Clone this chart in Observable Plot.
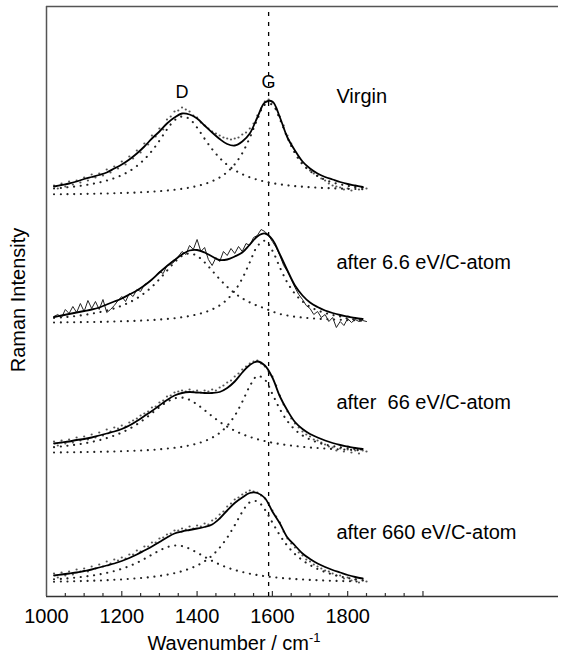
<!DOCTYPE html>
<html><head><meta charset="utf-8">
<script src="https://cdn.jsdelivr.net/npm/d3@7"></script>
<script src="https://cdn.jsdelivr.net/npm/@observablehq/plot@0.6"></script>
<style>
html,body{margin:0;padding:0;background:#fff;overflow:hidden;}
svg text{white-space:pre;}
</style></head><body><div id="chart"></div>
<script>
// wavenumber grids (cm^-1)
const wnFit = [1020,1040,1060,1080,1100,1120,1140,1160,1180,1200,1220,1240,1260,1280,1300,1320,1340,1360,1380,1400,1420,1440,1460,1480,1500,1520,1540,1560,1580,1600,1620,1640,1660,1680,1700,1720,1740,1760,1780,1800,1820,1840];
const wnData = [1020,1030,1040,1050,1060,1070,1080,1090,1100,1110,1120,1130,1140,1150,1160,1170,1180,1190,1200,1210,1220,1230,1240,1250,1260,1270,1280,1290,1300,1310,1320,1330,1340,1350,1360,1370,1380,1390,1400,1410,1420,1430,1440,1450,1460,1470,1480,1490,1500,1510,1520,1530,1540,1550,1560,1570,1580,1590,1600,1610,1620,1630,1640,1650,1660,1670,1680,1690,1700,1710,1720,1730,1740,1750,1760,1770,1780,1790,1800,1810,1820,1830,1840,1850];

const names = ["Virgin", "after 6.6 eV/C-atom", "after  66 eV/C-atom", "after 660 eV/C-atom"];
const offsets = [401, 273, 143, 13]; // vertical stacking offsets (a.u.)

// fitted envelope (a.u.)
const fitVirgin = [9,10.5,12,14,16.5,18.5,20.5,23,27,31,36,42,49,57,64,72,78,82,81,77,70,63,56.5,51.5,50,54,62,78,93,94,78,58,45,34,27,22,18.5,16,13.5,11.5,10,8.5];
const fit6p6 = [6.5,8,9.5,11,12.5,14,16,19,22,25,29,33,38,44,51,57.5,63.5,69,73,73.5,71,67,63.5,64,67,71,79,87,90,84,69,53,38,28,21,16.5,13,10.5,8.5,7,5.5,4.5];
const fit66 = [10,11,12,13.5,14.5,16,18,20,22,24.5,28,32.5,37.5,42.5,48,53.5,58,60.5,61.5,61,60.5,60.5,61.5,65.5,72,81,88.5,92,88,76,57,43,31.5,24.5,19.5,16,13,10.5,8.5,7,5.5,4.5];
const fit660 = [8,9,10,11,12.5,14,16,18,20,22.5,25.5,29,33,37,41.5,46,50,52,53.5,55,56.5,59,65,73,80.5,86,90.5,90.5,85.5,72,60,46,38,30,24.5,20,16.5,13.5,11,8.5,6.5,5];

// D band component (a.u.)
const dVirgin = [7,7.6,8.4,9.2,10.2,11.5,13,14.9,17.3,20.4,24.3,29.5,36.2,44.6,54.9,66,75.2,79,76.5,67.8,56.8,46.3,37.6,30.7,25.4,21.3,18.2,15.8,13.9,12.4,11.2,10.2,9.4,8.8,8.3,7.8,7.5,7.2,6.9,6.7,6.5,6.3];
const d6p6 = [5.5,6.1,6.8,7.6,8.6,9.8,11.3,13,15.1,17.8,21.1,25.2,30.4,36.7,44.3,52.8,61.1,67.6,70,67.6,61.1,52.8,44.3,36.7,30.4,25.2,21.1,17.8,15.1,12,9.5,8,6.8,6,5.3,4.8,4.4,4,3.7,3.4,3.2,3];
const d66 = [6.4,7.1,8,9,10.1,11.6,13.3,15.4,17.9,21,24.7,29.2,34.4,40.3,46.3,51.6,55.1,55.9,53.7,49.1,43.3,37.3,31.7,26.9,22.8,19.4,16.6,14.3,12.4,10.8,9.5,8.4,7.5,6.7,6,5.5,5,4.5,4.1,3.8,3.5,3.2];
const d660 = [4.2,4.7,5.3,6,6.9,7.9,9.1,10.6,12.4,14.7,17.4,20.7,24.6,28.8,33,36.3,37.9,37.4,34.8,30.9,26.7,22.6,19,16,13.5,11.5,9.8,8.5,7.3,6.4,5.65,5,4.5,4,3.6,3.3,3,2.7,2.5,2.3,2.1,1.9];

// G band component (a.u.)
const gVirgin = [1.2,1.25,1.35,1.45,1.6,1.7,1.9,2,2.2,2.5,2.7,3,3.4,3.8,4.3,5,5.7,6.7,7.9,9.5,11.5,14.3,18.1,23.5,31.2,42.3,57.8,76.2,90.8,90.8,76.2,57.8,42.3,31.2,24.5,19.3,15.7,13,11.2,9.7,8.6,7.7];
const g6p6 = [1,1.1,1.2,1.3,1.4,1.5,1.6,1.8,2,2.2,2.4,2.7,3.1,3.5,4,4.6,5.3,6.3,7.5,9.1,11.2,14.1,18.2,24.1,32.7,45,61.2,77.2,82.8,72.9,56,40.8,29.7,22.1,16.8,13.1,10.5,8.5,7.1,5,4,3.2];
const g66 = [1,1.1,1.2,1.3,1.4,1.55,1.7,1.85,2,2.25,2.5,2.8,3.2,3.6,4.2,4.9,5.7,6.7,8.1,9.9,12.4,15.8,20.6,27.7,37.8,51.7,67.4,77.5,73.8,59.6,44.3,32.3,23.8,18,14,11.1,8.9,7.4,6.2,5.2,4.5,3.9];
const g660 = [1.8,1.95,2.1,2.3,2.5,2.75,3,3.3,3.7,4.1,4.6,5.2,5.8,6.6,7.6,8.8,10.3,12.3,14.8,18,22.3,28,35.8,45.9,58.3,71.6,81.2,82.2,73.9,61,48.2,37.6,29.4,23.3,18.5,14.5,11.5,9,7,5.5,4.2,3.2];

// measured spectra (a.u.)
const dataVirgin = [10,7,12,9,14,11,15,13,18,15,21,18,22,20,26,23,29,27,34,31,39,37,45,43,52,51,60,59,67,66,76,79,84,85,88,86,84,80,78,73,70,67,64,62,60,58,57,56,57,58,61,63,67,72,80,87,94,96,93,86,79,70,60,52,44,38,33,28,25,22,20,17,15,12,10,9,8,6,7,5,8,6,8,7];
const data6p6 = [7,9,6,14,10,17,11,20,12,23,15,22,14,24,11,14,18,23,27,22,30,27,34,32,39,41,44,47,52,50,58,59,62,67,72,69,78,74,84,72,76,64,58,66,62,72,68,75,70,77,72,80,78,86,88,94,92,88,82,76,68,58,52,44,36,29,24,18,15,9,12,6,9,2,6,-4,2,-2,5,1,4,2,3,2];
const data66 = [12,8,13,10,14,11,16,13,17,14,19,16,21,18,24,22,26,25,28,27,31,33,35,38,40,42,46,47,51,53,57,58,61,62,63,62,64,62,63,61,63,62,64,63,66,68,71,73,77,80,84,87,90,92,93,90,87,82,77,68,58,49,42,35,30,26,22,19,17,14,13,11,9,7,6,3,5,2,4,1,3,0,3,2];
const data660 = [10,6,11,8,12,9,14,12,15,12,17,15,19,17,22,20,24,23,26,25,29,29,33,32,37,37,41,41,45,46,49,50,53,53,55,54,57,55,58,57,60,59,63,65,69,72,77,80,84,86,89,91,93,92,91,88,85,80,73,67,61,52,45,40,36,31,28,24,22,19,17,15,13,12,10,8,8,5,6,3,4,1,3,2];

const tickLabels = [1000, 1200, 1400, 1600, 1800];
const majorTicks = [1200, 1400, 1600, 1800, 2000];
const minorTicks = [1050, 1100, 1150, 1250, 1300, 1350, 1450, 1500, 1550, 1650, 1700, 1750, 1850, 1900, 1950];
const gLine = [1590];
const bandLabels = ["D", "G"];
const bandPos = [1360, 1590];

const fits = [fitVirgin, fit6p6, fit66, fit660];
const ds = [dVirgin, d6p6, d66, d660];
const gs = [gVirgin, g6p6, g66, g660];
const datas = [dataVirgin, data6p6, data66, data660];

const rows = (xs, ys, k) => xs.map((x, i) => ({wn: x, y: ys[i] + offsets[k], k}));
const fitRows = fits.flatMap((f, k) => rows(wnFit, f, k));
const dRows = ds.flatMap((f, k) => rows(wnFit, f, k));
const gRows = gs.flatMap((f, k) => rows(wnFit, f, k));
const dataRows = datas.flatMap((f, k) => rows(wnData, f, k));

const labelY = [494, 328, 188, 58];
const bandY = [499, 509];

const dotted = {x: "wn", y: "y", z: "k", stroke: "#222", strokeWidth: 2.1, strokeDasharray: "0.1,6.6", strokeLinecap: "round", curve: "catmull-rom"};

const plot = Plot.plot({
  width: 566, height: 660,
  marginLeft: 46, marginRight: 8, marginTop: 6, marginBottom: 64,
  x: {domain: [1000, 2360], axis: null},
  y: {domain: [0, 590], axis: null},
  style: {fontFamily: "'Liberation Sans', Arial, sans-serif", fontSize: "20px", color: "#000", background: "#fff"},
  marks: [
    Plot.ruleY([0], {stroke: "#333", strokeWidth: 1.5}),
    Plot.ruleX([1000], {stroke: "#555", strokeWidth: 1.5}),
    Plot.ruleX(majorTicks, {x: d => d, y1: 0, y2: 5, stroke: "#333", strokeWidth: 1.2}),
    Plot.ruleX(minorTicks, {x: d => d, y1: 0, y2: 3, stroke: "#333", strokeWidth: 1.2}),
    Plot.axisX(tickLabels, {tickSize: 0, tickPadding: 12, fontSize: 20, label: null, tickFormat: d => String(d)}),
    Plot.ruleX(gLine, {x: d => d, y1: 0, y2: 586, stroke: "#000", strokeWidth: 1.3, strokeDasharray: "4,6"}),
    Plot.dot(dataRows.filter(d => d.k !== 1), {x: "wn", y: "y", r: 1.1, fill: "#555", stroke: null}),
    Plot.line(dataRows.filter(d => d.k === 1), {x: "wn", y: "y", stroke: "#222", strokeWidth: 1}),
    Plot.line(dRows, dotted),
    Plot.line(gRows, dotted),
    Plot.line(fitRows, {x: "wn", y: "y", z: "k", stroke: "#000", strokeWidth: 1.8, curve: "catmull-rom"}),
    Plot.text(names, {x: () => 1770, y: (d, i) => labelY[i], text: d => d, textAnchor: "start", lineAnchor: "bottom", fontSize: 20, fill: "#000"}),
    Plot.text(bandLabels, {x: (d, i) => bandPos[i], y: (d, i) => bandY[i], text: d => d, lineAnchor: "bottom", fontSize: 18, fill: "#000"})
  ]
});

const svg = d3.select(plot);
// top border of the plot frame
svg.append("line")
  .attr("x1", 46).attr("x2", 558).attr("y1", 6.5).attr("y2", 6.5)
  .attr("stroke", "#555").attr("stroke-width", 1.5);
const xl = svg.append("text")
  .attr("x", 234).attr("y", 650)
  .attr("text-anchor", "middle")
  .attr("font-size", 20)
  .attr("fill", "#000")
  .text("Wavenumber / cm");
xl.append("tspan").attr("dy", -8).attr("font-size", 13).text("-1");
svg.append("text")
  .attr("transform", "translate(25,300) rotate(-90)")
  .attr("text-anchor", "middle")
  .attr("font-size", 20)
  .attr("fill", "#000")
  .text("Raman Intensity");

document.getElementById("chart").appendChild(plot);
</script></body></html>
